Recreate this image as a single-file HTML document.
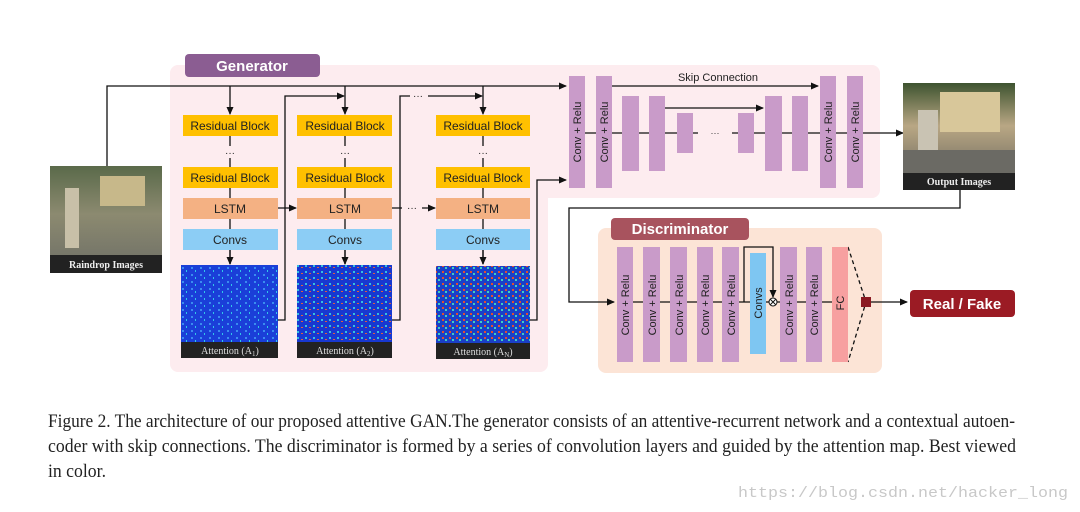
<!DOCTYPE html>
<html><head><meta charset="utf-8"><style>
html,body{margin:0;padding:0;background:#fff;width:1080px;height:512px;overflow:hidden}
svg{display:block}
.s{font-family:"Liberation Sans",sans-serif}
.sr{font-family:"Liberation Serif",serif}
</style></head><body>
<svg width="1080" height="512" viewBox="0 0 1080 512" xmlns="http://www.w3.org/2000/svg">
<defs>
<marker id="a" markerWidth="8" markerHeight="8" refX="7" refY="4" orient="auto" markerUnits="userSpaceOnUse"><path d="M0,0.5 L8,4 L0,7.5z" fill="#111"/></marker>
<linearGradient id="ph" x1="0" y1="0" x2="0" y2="1"><stop offset="0" stop-color="#5a6a4a"/><stop offset="0.45" stop-color="#8c8a70"/><stop offset="1" stop-color="#6d6e66"/></linearGradient>
<linearGradient id="ph2" x1="0" y1="0" x2="0" y2="1"><stop offset="0" stop-color="#3e5330"/><stop offset="0.4" stop-color="#b9a784"/><stop offset="1" stop-color="#5f5e58"/></linearGradient>
<pattern id="sp" width="9" height="7" patternUnits="userSpaceOnUse"><rect width="9" height="7" fill="#1a3fd8"/><rect x="2" y="1" width="2" height="2" fill="#3a8cf0"/><rect x="6" y="4" width="1" height="2" fill="#2fc8e8"/></pattern>
<pattern id="sp2" width="8" height="6" patternUnits="userSpaceOnUse"><rect width="8" height="6" fill="#1838d0"/><rect x="1" y="1" width="2" height="2" fill="#35c0e0"/><rect x="5" y="3" width="2" height="1" fill="#e06040"/></pattern>
<pattern id="sp3" width="7" height="6" patternUnits="userSpaceOnUse"><rect width="7" height="6" fill="#1a40c8"/><rect x="1" y="1" width="2" height="2" fill="#e05030"/><rect x="4" y="3" width="2" height="2" fill="#40d0c0"/></pattern>
</defs>

<!-- generator bg -->
<path d="M178,65 H872 a8,8 0 0 1 8,8 V190 a8,8 0 0 1 -8,8 H548 V364 a8,8 0 0 1 -8,8 H178 a8,8 0 0 1 -8,-8 V73 a8,8 0 0 1 8,-8z" fill="#fdecef"/>
<rect x="185" y="54" width="135" height="23" rx="4" fill="#8b5d92"/>
<text x="252" y="71" class="s" font-size="15" font-weight="bold" fill="#fff" text-anchor="middle">Generator</text>

<!-- raindrop image -->
<rect x="50" y="166" width="112" height="107" fill="url(#ph)"/>
<rect x="65" y="188" width="14" height="60" fill="#c8c0a8"/>
<rect x="100" y="176" width="45" height="30" fill="#c7b88a"/>
<rect x="50" y="255" width="112" height="18" fill="#222"/>
<text x="106" y="268" class="sr" font-size="10" font-weight="bold" fill="#eee" text-anchor="middle">Raindrop Images</text>

<g stroke="#111" stroke-width="1.3" fill="none">
<path d="M107,166 V86 H566" marker-end="url(#a)"/>
<path d="M230,86 V114" marker-end="url(#a)"/>
<path d="M345,86 V114" marker-end="url(#a)"/>
<path d="M483,86 V114" marker-end="url(#a)"/>
<path d="M278,320 H285 V96 H344" marker-end="url(#a)"/>
<path d="M392,320 H400 V96 H410 M428,96 H482" marker-end="url(#a)"/>
<path d="M530,320 H537 V180 H566" marker-end="url(#a)"/>
<path d="M230,136 V146 M230,158 V167 M230,188 V264"/>
<path d="M345,136 V146 M345,158 V167 M345,188 V264"/>
<path d="M483,136 V146 M483,158 V167 M483,188 V264"/>
<path d="M230,250 V264" marker-end="url(#a)"/>
<path d="M345,250 V264" marker-end="url(#a)"/>
<path d="M483,250 V264" marker-end="url(#a)"/>
<path d="M278,208 H296" marker-end="url(#a)"/>
<path d="M392,208 H402 M422,208 H435" marker-end="url(#a)"/>
</g>
<g class="s" font-size="10" fill="#222" text-anchor="middle">
<text x="230" y="156">···</text><text x="345" y="156">···</text><text x="483" y="156">···</text>
<text x="412" y="211">···</text><text x="418" y="99">···</text>
</g>

<g class="s" font-size="12" fill="#222" text-anchor="middle">
<rect x="183" y="115" width="95" height="21" fill="#ffc000"/><text x="230" y="130">Residual Block</text>
<rect x="297" y="115" width="95" height="21" fill="#ffc000"/><text x="345" y="130">Residual Block</text>
<rect x="436" y="115" width="94" height="21" fill="#ffc000"/><text x="483" y="130">Residual Block</text>
<rect x="183" y="167" width="95" height="21" fill="#ffc000"/><text x="230" y="182">Residual Block</text>
<rect x="297" y="167" width="95" height="21" fill="#ffc000"/><text x="345" y="182">Residual Block</text>
<rect x="436" y="167" width="94" height="21" fill="#ffc000"/><text x="483" y="182">Residual Block</text>
<rect x="183" y="198" width="95" height="21" fill="#f4b183"/><text x="230" y="213">LSTM</text>
<rect x="297" y="198" width="95" height="21" fill="#f4b183"/><text x="345" y="213">LSTM</text>
<rect x="436" y="198" width="94" height="21" fill="#f4b183"/><text x="483" y="213">LSTM</text>
<rect x="183" y="229" width="95" height="21" fill="#8ccdf5"/><text x="230" y="244">Convs</text>
<rect x="297" y="229" width="95" height="21" fill="#8ccdf5"/><text x="345" y="244">Convs</text>
<rect x="436" y="229" width="94" height="21" fill="#8ccdf5"/><text x="483" y="244">Convs</text>
</g>

<!-- attention maps -->
<rect x="181" y="265" width="97" height="78" fill="url(#sp)"/>
<rect x="297" y="265" width="95" height="78" fill="url(#sp2)"/>
<rect x="436" y="266" width="94" height="78" fill="url(#sp3)"/>
<g fill="#222"><rect x="181" y="342" width="97" height="16"/><rect x="297" y="342" width="95" height="16"/><rect x="436" y="343" width="94" height="16"/></g>
<g class="sr" font-size="10" fill="#ddd" text-anchor="middle">
<text x="230" y="354">Attention (A<tspan font-size="7" dy="2">1</tspan><tspan dy="-2">)</tspan></text>
<text x="345" y="354">Attention (A<tspan font-size="7" dy="2">2</tspan><tspan dy="-2">)</tspan></text>
<text x="483" y="355">Attention (A<tspan font-size="7" dy="2">N</tspan><tspan dy="-2">)</tspan></text>
</g>

<!-- autoencoder -->
<g stroke="#111" stroke-width="1.3" fill="none">
<path d="M569,133 H903" marker-end="url(#a)"/>
<path d="M612,86 H818" marker-end="url(#a)"/>
<path d="M665,108 H763" marker-end="url(#a)"/>
</g>
<g fill="#c99bc9">
<rect x="569" y="76" width="16" height="112"/><rect x="596" y="76" width="16" height="112"/>
<rect x="622" y="96" width="17" height="75"/><rect x="649" y="96" width="16" height="75"/>
<rect x="677" y="113" width="16" height="40"/><rect x="738" y="113" width="16" height="40"/>
<rect x="765" y="96" width="17" height="75"/><rect x="792" y="96" width="16" height="75"/>
<rect x="820" y="76" width="16" height="112"/><rect x="847" y="76" width="16" height="112"/>
</g>
<rect x="698" y="128" width="34" height="10" fill="#fdecef"/>
<text x="715" y="136" class="s" font-size="9" fill="#333" text-anchor="middle">···</text>
<text x="718" y="81" class="s" font-size="11" fill="#222" text-anchor="middle">Skip Connection</text>
<g class="s" font-size="11" fill="#222" text-anchor="middle">
<text transform="translate(581,132) rotate(-90)">Conv + Relu</text>
<text transform="translate(608,132) rotate(-90)">Conv + Relu</text>
<text transform="translate(832,132) rotate(-90)">Conv + Relu</text>
<text transform="translate(859,132) rotate(-90)">Conv + Relu</text>
</g>

<!-- output image -->
<rect x="903" y="83" width="112" height="107" fill="url(#ph2)"/>
<rect x="940" y="92" width="60" height="40" fill="#d8c79a"/>
<rect x="918" y="110" width="20" height="55" fill="#c9c3b3"/>
<rect x="903" y="150" width="112" height="25" fill="#6b6a64"/>
<rect x="903" y="173" width="112" height="17" fill="#222"/>
<text x="959" y="185" class="sr" font-size="10" font-weight="bold" fill="#eee" text-anchor="middle">Output Images</text>

<!-- discriminator -->
<rect x="598" y="228" width="284" height="145" rx="8" fill="#fce4d6"/>
<rect x="611" y="218" width="138" height="22" rx="4" fill="#a8535e"/>
<text x="680" y="234" class="s" font-size="15" font-weight="bold" fill="#fff" text-anchor="middle">Discriminator</text>
<g stroke="#111" stroke-width="1.3" fill="none">
<path d="M960,190 V208 H569 V302 H614" marker-end="url(#a)"/>
<path d="M617,302 H832"/>
<path d="M744,302 V247 H773 V297" marker-end="url(#a)"/>
<path d="M866,302 H907" marker-end="url(#a)"/>
<path d="M848,247 L866,302 L848,362" stroke-dasharray="4,3"/>
</g>
<g fill="#c99bc9">
<rect x="617" y="247" width="16" height="115"/><rect x="643" y="247" width="17" height="115"/>
<rect x="670" y="247" width="17" height="115"/><rect x="697" y="247" width="16" height="115"/>
<rect x="722" y="247" width="17" height="115"/>
<rect x="780" y="247" width="17" height="115"/><rect x="806" y="247" width="16" height="115"/>
</g>
<rect x="750" y="253" width="16" height="101" fill="#7ec6f2"/>
<rect x="832" y="247" width="16" height="115" fill="#f7a0a0"/>
<circle cx="773" cy="302" r="4" fill="#fff" stroke="#111" stroke-width="1"/>
<path d="M770,299 L776,305 M776,299 L770,305" stroke="#111" stroke-width="1"/>
<rect x="861" y="297" width="10" height="10" fill="#8b1a22"/>
<g class="s" font-size="11" fill="#222" text-anchor="middle">
<text transform="translate(629,305) rotate(-90)">Conv + Relu</text>
<text transform="translate(656,305) rotate(-90)">Conv + Relu</text>
<text transform="translate(683,305) rotate(-90)">Conv + Relu</text>
<text transform="translate(709,305) rotate(-90)">Conv + Relu</text>
<text transform="translate(735,305) rotate(-90)">Conv + Relu</text>
<text transform="translate(762,303) rotate(-90)">Convs</text>
<text transform="translate(793,305) rotate(-90)">Conv + Relu</text>
<text transform="translate(818,305) rotate(-90)">Conv + Relu</text>
<text transform="translate(844,303) rotate(-90)">FC</text>
</g>
<rect x="910" y="290" width="105" height="27" rx="4" fill="#9b1b24"/>
<text x="962" y="309" class="s" font-size="15" font-weight="bold" fill="#fff" text-anchor="middle">Real / Fake</text>

<!-- caption -->
<g class="sr" font-size="19" fill="#222">
<text x="48" y="427" textLength="967" lengthAdjust="spacingAndGlyphs">Figure 2. The architecture of our proposed attentive GAN.The generator consists of an attentive-recurrent network and a contextual autoen-</text>
<text x="48" y="452" textLength="968" lengthAdjust="spacingAndGlyphs">coder with skip connections. The discriminator is formed by a series of convolution layers and guided by the attention map. Best viewed</text>
<text x="48" y="477" textLength="58" lengthAdjust="spacingAndGlyphs">in color.</text>
</g>
<text x="738" y="497" textLength="330" lengthAdjust="spacingAndGlyphs" font-family="Liberation Mono,monospace" font-size="15" fill="#c8c8c8">https://blog.csdn.net/hacker_long</text>
</svg>
</body></html>
